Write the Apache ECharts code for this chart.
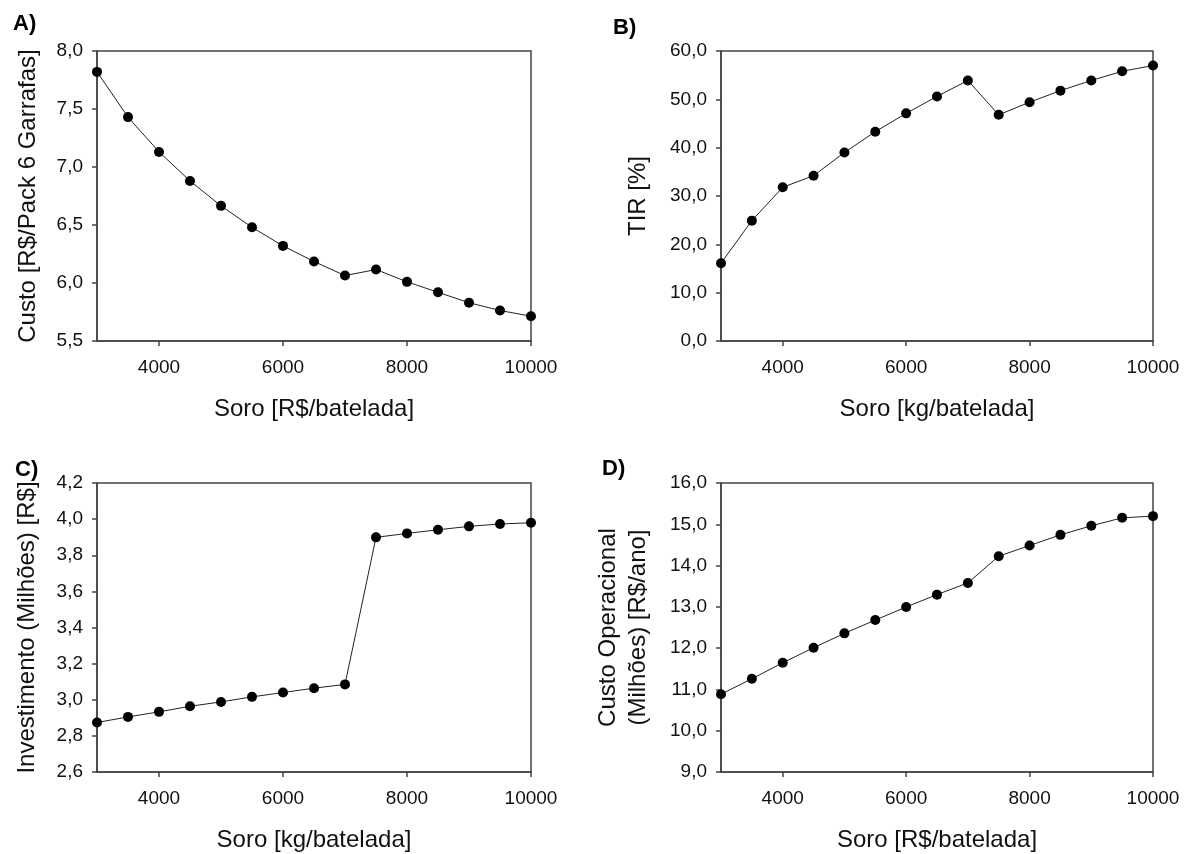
<!DOCTYPE html>
<html>
<head>
<meta charset="utf-8">
<script src="https://cdn.jsdelivr.net/npm/echarts@6/dist/echarts.min.js"></script>
<style>
html,body{margin:0;padding:0;background:#fff;}
#chart{width:1184px;height:854px;}
</style>
</head>
<body>
<div id="chart"></div>
<script>
var soro = [3000, 3500, 4000, 4500, 5000, 5500, 6000, 6500, 7000, 7500, 8000, 8500, 9000, 9500, 10000];
var custo = [7.82, 7.43, 7.13, 6.88, 6.665, 6.48, 6.32, 6.185, 6.064, 6.116, 6.01, 5.92, 5.83, 5.763, 5.714];
var tir = [16.1, 24.9, 31.8, 34.2, 39.0, 43.3, 47.1, 50.6, 53.9, 46.8, 49.4, 51.8, 53.9, 55.8, 57.0];
var investimento = [2.874, 2.905, 2.933, 2.964, 2.988, 3.016, 3.040, 3.064, 3.085, 3.899, 3.921, 3.941, 3.960, 3.973, 3.980];
var custoOper = [10.885, 11.257, 11.646, 12.01, 12.358, 12.68, 12.997, 13.296, 13.58, 14.227, 14.485, 14.744, 14.963, 15.157, 15.197];
var xTicks = [4000, 6000, 8000, 10000];
var panelLabels = ['A)', 'B)', 'C)', 'D)'];
var xTitles = ['Soro [R$/batelada]', 'Soro [kg/batelada]', 'Soro [kg/batelada]', 'Soro [R$/batelada]'];
var yTitles = ['Custo [R$/Pack 6 Garrafas]', 'TIR [%]', 'Investimento (Milhões) [R$]', 'Custo Operacional\n(Milhões) [R$/ano]'];
var yRanges = [[5.5, 8.0, 0.5], [0, 60, 10], [2.6, 4.2, 0.2], [9, 16, 1]];
var seriesValues = [custo, tir, investimento, custoOper];

var FONT = '"Liberation Sans", Arial, Helvetica, sans-serif';
var AX = '#444';
var grids = [
  {left: 97, top: 51, width: 434, height: 290},
  {left: 721, top: 51, width: 432, height: 290},
  {left: 97, top: 483, width: 434, height: 289},
  {left: 721, top: 483, width: 432, height: 289}
];
var yNameGaps = [54, 68, 55, 68];
var labelPos = [[13, 25], [613, 29], [15, 471], [602, 470]];

function fmt(v) { return v.toFixed(1).replace('.', ','); }
function fmtX(v) { return String(v); }

var option = {
  animation: false,
  backgroundColor: '#fff',
  textStyle: {fontFamily: FONT},
  grid: grids.map(function (g) {
    return Object.assign({show: true, borderColor: AX, borderWidth: 1.5, backgroundColor: 'transparent'}, g);
  }),
  xAxis: grids.map(function (g, i) {
    return {
      type: 'value', gridIndex: i, min: 3000, max: 10000,
      name: xTitles[i], nameLocation: 'middle', nameGap: 56,
      nameTextStyle: {fontFamily: FONT, fontSize: 24, color: '#111'},
      axisLine: {show: true, lineStyle: {color: AX, width: 1.5}},
      axisTick: {show: true, length: 5, inside: false, customValues: xTicks, lineStyle: {color: AX, width: 1.5}},
      axisLabel: {show: true, customValues: xTicks, margin: 17, fontFamily: FONT, fontSize: 19, color: '#111', formatter: fmtX},
      splitLine: {show: false}
    };
  }),
  yAxis: grids.map(function (g, i) {
    return {
      type: 'value', gridIndex: i, min: yRanges[i][0], max: yRanges[i][1], interval: yRanges[i][2],
      name: yTitles[i], nameLocation: 'middle', nameGap: yNameGaps[i],
      nameTextStyle: {fontFamily: FONT, fontSize: 24, color: '#111', lineHeight: 30},
      axisLine: {show: true, lineStyle: {color: AX, width: 1.5}},
      axisTick: {show: true, length: 5, inside: false, lineStyle: {color: AX, width: 1.5}},
      axisLabel: {show: true, margin: 14, fontFamily: FONT, fontSize: 19, color: '#111', formatter: fmt},
      splitLine: {show: false}
    };
  }),
  series: seriesValues.map(function (vals, i) {
    return {
      type: 'line', xAxisIndex: i, yAxisIndex: i,
      data: soro.map(function (x, k) { return [x, vals[k]]; }),
      symbol: 'circle', symbolSize: 10, showSymbol: true,
      lineStyle: {color: '#222', width: 1},
      itemStyle: {color: '#000', borderWidth: 0},
      clip: false
    };
  }),
  graphic: panelLabels.map(function (t, i) {
    return {
      type: 'text', left: labelPos[i][0], top: labelPos[i][1] - 12, z: 100,
      style: {text: t, font: 'bold 22px ' + FONT, fill: '#000'}
    };
  })
};

var chart = echarts.init(document.getElementById('chart'), null, {renderer: 'canvas'});
chart.setOption(option);
</script>
</body>
</html>
